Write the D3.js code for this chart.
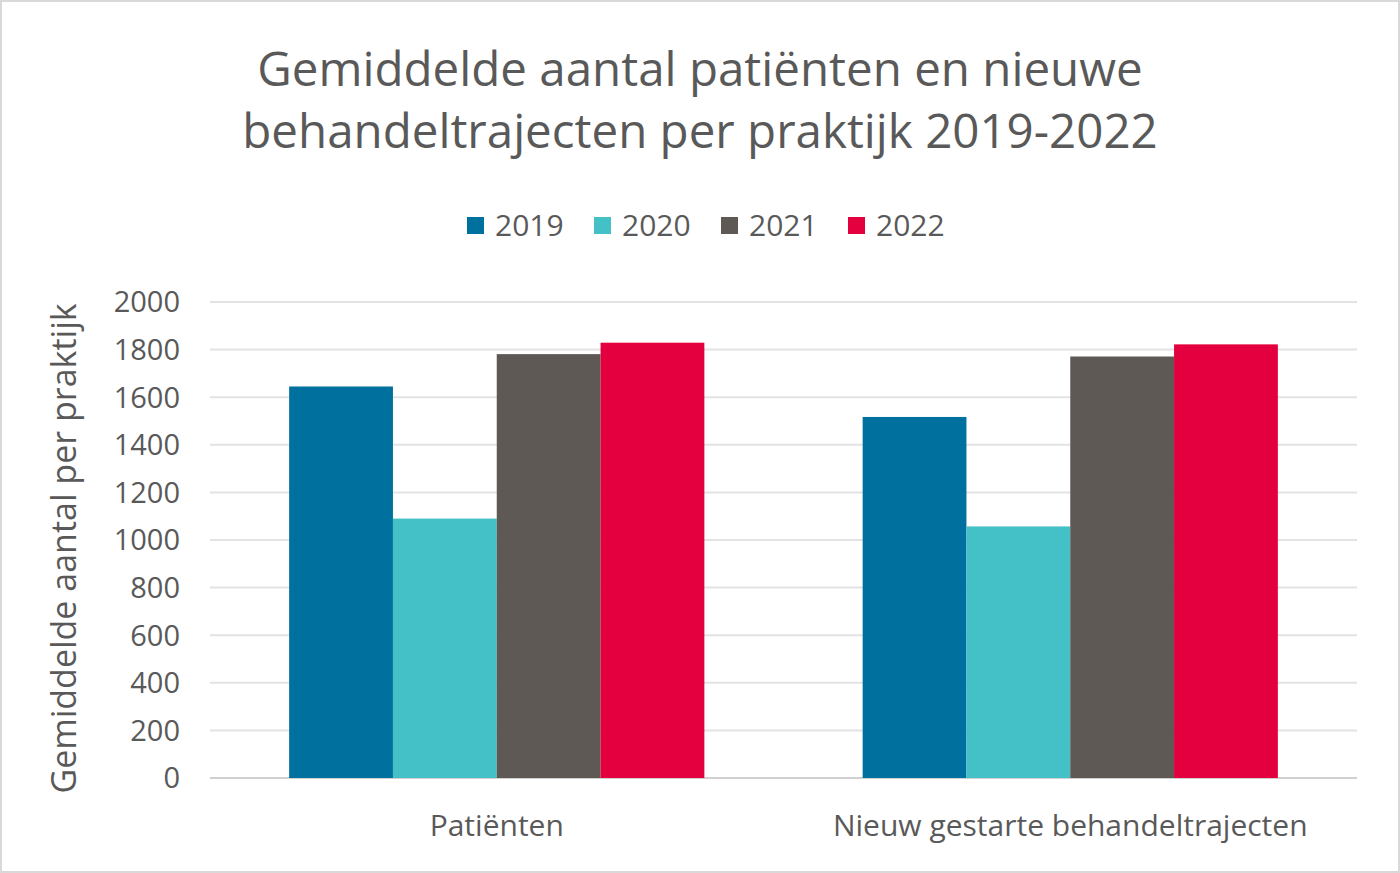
<!DOCTYPE html>
<html>
<head>
<meta charset="utf-8">
<script src="https://cdn.jsdelivr.net/npm/d3@7"></script>
<style>
  body { margin: 0; background: #fff; }
  svg { display: block; }
  text { font-family: "Open Sans", "Noto Sans", sans-serif; fill: #595959; }
</style>
</head>
<body>
<svg id="chart"></svg>
<script>
var categories = ['Patiënten', 'Nieuw gestarte behandeltrajecten'];
var years = ['2019', '2020', '2021', '2022'];
var values2019 = [1645, 1517];
var values2020 = [1090, 1057];
var values2021 = [1781, 1771];
var values2022 = [1829, 1822];
var yTicks = [0, 200, 400, 600, 800, 1000, 1200, 1400, 1600, 1800, 2000];
var titleLines = ['Gemiddelde aantal patiënten en nieuwe', 'behandeltrajecten per praktijk 2019-2022'];
var colors = ['#00719e', '#43c1c6', '#5e5955', '#e4003f'];

var width = 1400;
var height = 873;

var svg = d3.select('#chart')
    .attr('width', width)
    .attr('height', height);

// light frame like the exported chart area
svg.append('rect')
    .attr('x', 1).attr('y', 1)
    .attr('width', width - 2).attr('height', height - 2)
    .attr('fill', '#fff')
    .attr('stroke', '#d9d9d9')
    .attr('stroke-width', 2);

var plot = {left: 210, right: 1357, top: 302, bottom: 778};

var x0 = d3.scaleBand()
    .domain(categories)
    .range([plot.left, plot.right])
    .paddingInner(0.276)
    .paddingOuter(0.138);

var x1 = d3.scaleBand()
    .domain(years)
    .range([0, x0.bandwidth()]);

var y = d3.scaleLinear()
    .domain([0, 2000])
    .range([plot.bottom, plot.top]);

var series = [values2019, values2020, values2021, values2022];

// gridlines
svg.append('g')
    .selectAll('line')
    .data(yTicks)
    .enter().append('line')
    .attr('x1', plot.left)
    .attr('x2', plot.right)
    .attr('y1', function(d) { return y(d); })
    .attr('y2', function(d) { return y(d); })
    .attr('stroke', function(d) { return d === 0 ? '#d0d0d0' : '#e3e3e3'; })
    .attr('stroke-width', 2);

// y tick labels
svg.append('g')
    .selectAll('text')
    .data(yTicks)
    .enter().append('text')
    .attr('x', 180)
    .attr('y', function(d) { return y(d); })
    .attr('dy', '0.36em')
    .attr('text-anchor', 'end')
    .style('font-size', '29px')
    .text(function(d) { return d; });

// bars
var groups = svg.append('g')
    .selectAll('g')
    .data(categories)
    .enter().append('g')
    .attr('transform', function(d) { return 'translate(' + x0(d) + ',0)'; });

groups.selectAll('rect')
    .data(function(cat, ci) {
        return years.map(function(yr, si) {
            return {year: yr, value: series[si][ci], color: colors[si]};
        });
    })
    .enter().append('rect')
    .attr('x', function(d) { return x1(d.year); })
    .attr('width', x1.bandwidth())
    .attr('y', function(d) { return y(d.value); })
    .attr('height', function(d) { return y(0) - y(d.value); })
    .attr('fill', function(d) { return d.color; });

// category labels
svg.append('g')
    .selectAll('text')
    .data(categories)
    .enter().append('text')
    .attr('x', function(d) { return x0(d) + x0.bandwidth() / 2; })
    .attr('y', 836)
    .attr('text-anchor', 'middle')
    .style('font-size', '30px')
    .text(function(d) { return d; });

// y axis title
svg.append('text')
    .attr('transform', 'translate(76,' + ((plot.top + 795) / 2) + ') rotate(-90)')
    .attr('text-anchor', 'middle')
    .style('font-size', '34px')
    .text('Gemiddelde aantal per praktijk');

// title
var title = svg.append('text')
    .attr('text-anchor', 'middle')
    .style('font-size', '47.5px');
title.selectAll('tspan')
    .data(titleLines)
    .enter().append('tspan')
    .attr('x', 700)
    .attr('y', function(d, i) { return 86 + i * 62; })
    .text(function(d) { return d; });

// legend
var legendX = [467, 594, 721, 848];
var legend = svg.append('g')
    .selectAll('g')
    .data(years)
    .enter().append('g')
    .attr('transform', function(d, i) { return 'translate(' + legendX[i] + ',217)'; });

legend.append('rect')
    .attr('width', 17)
    .attr('height', 17)
    .attr('fill', function(d, i) { return colors[i]; });

legend.append('text')
    .attr('x', 28)
    .attr('y', 8.5)
    .attr('dy', '0.36em')
    .style('font-size', '30px')
    .text(function(d) { return d; });
</script>
</body>
</html>
